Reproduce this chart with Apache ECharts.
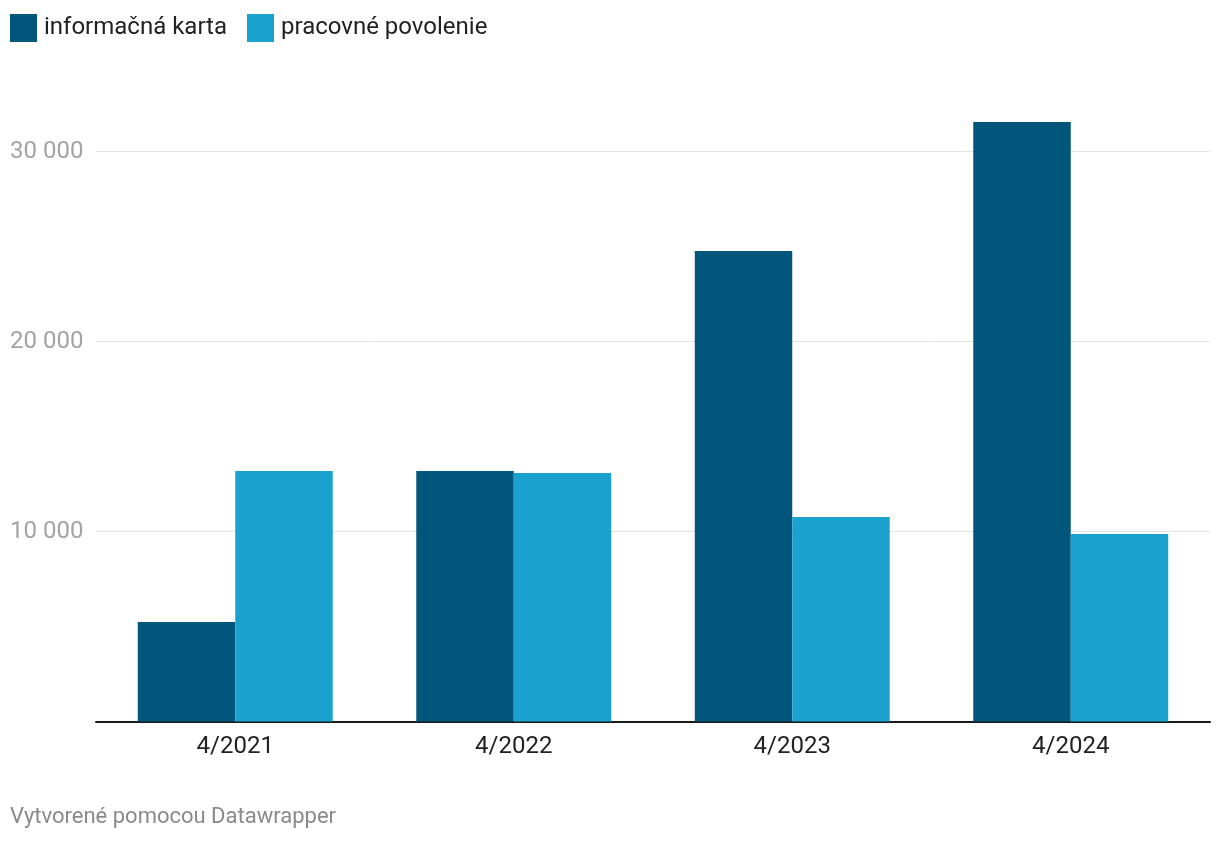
<!DOCTYPE html>
<html>
<head>
<meta charset="utf-8">
<script src="https://cdn.jsdelivr.net/npm/echarts@6/dist/echarts.min.js"></script>
<style>
html,body{margin:0;padding:0;background:#fff;}
#chart{width:1220px;height:844px;}
</style>
</head>
<body>
<div id="chart"></div>
<script>
const categories = ['4/2021', '4/2022', '4/2023', '4/2024'];
const seriesNames = ['informačná karta', 'pracovné povolenie'];
const infoKarta = [5240, 13180, 24760, 31550];
const pracovnePovolenie = [13180, 13080, 10760, 9870];
const yTicks = [0, 10000, 20000, 30000];
const creditText = 'Vytvorené pomocou Datawrapper';

const chart = echarts.init(document.getElementById('chart'));
const FONT = 'Roboto';
chart.setOption({
  animation: false,
  backgroundColor: '#ffffff',
  textStyle: { fontFamily: FONT },
  legend: {
    left: 5, top: 9,
    itemWidth: 27, itemHeight: 28,
    itemGap: 20,
    icon: 'rect',
    textStyle: { fontFamily: FONT, fontSize: 24, color: '#222', padding: [0, 0, 0, 2] },
    data: seriesNames
  },
  graphic: [{
    type: 'text', left: 10, top: 806,
    style: { text: creditText, fontFamily: FONT, fontSize: 22, fill: '#8a8a8a' }
  }],
  grid: { left: 96, right: 10, top: 56.5, bottom: 122.5, containLabel: false },
  xAxis: {
    type: 'category',
    data: categories,
    axisLine: { show: true, lineStyle: { color: '#1a1a1a', width: 2 } },
    axisTick: { show: false },
    axisLabel: { fontFamily: FONT, fontSize: 24, color: '#222', margin: 13 }
  },
  yAxis: {
    type: 'value',
    min: 0, max: 35000, interval: 10000,
    axisLine: { show: false },
    axisTick: { show: false },
    splitLine: { show: true, showMinLine: false, showMaxLine: false, lineStyle: { color: '#e3e3e3', width: 1 } },
    axisLabel: {
      fontFamily: FONT, fontSize: 24, color: '#a3a3a3',
      align: 'left', margin: 86,
      showMinLabel: false, showMaxLabel: false,
      formatter: function (v) {
        if (yTicks.indexOf(v) < 0) return '';
        return String(v).replace(/\B(?=(\d{3})+(?!\d))/g, ' ');
      }
    }
  },
  series: [
    {
      name: seriesNames[0], type: 'bar', data: infoKarta,
      itemStyle: { color: '#02557b' },
      barGap: '0%', barCategoryGap: '30%'
    },
    {
      name: seriesNames[1], type: 'bar', data: pracovnePovolenie,
      itemStyle: { color: '#1aa1ce' },
      barGap: '0%', barCategoryGap: '30%'
    }
  ]
});
</script>
</body>
</html>
